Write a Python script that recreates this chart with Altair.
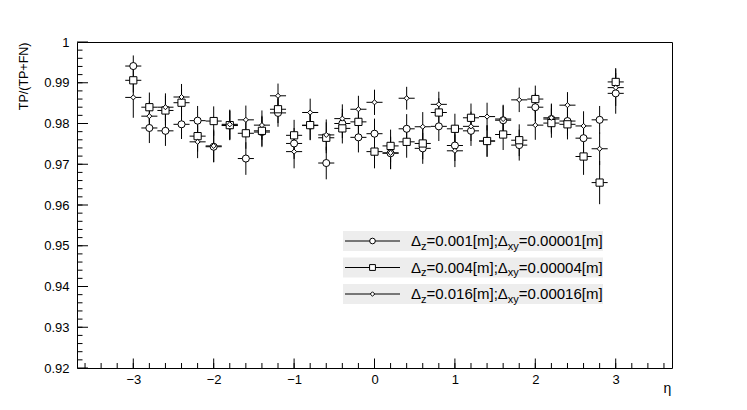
import altair as alt
import pandas as pd

# ---------------- data ----------------
eta = [-3.0, -2.8, -2.6, -2.4, -2.2, -2.0, -1.8, -1.6, -1.4, -1.2, -1.0,
       -0.8, -0.6, -0.4, -0.2, 0.0, 0.2, 0.4, 0.6, 0.8, 1.0,
       1.2, 1.4, 1.6, 1.8, 2.0, 2.2, 2.4, 2.6, 2.8, 3.0]

eff_circle = [0.9941, 0.9789, 0.9782, 0.9798, 0.9807, 0.9743, 0.9795, 0.9714, 0.9779, 0.9826, 0.9751,
              0.9795, 0.9703, 0.9800, 0.9766, 0.9775, 0.9727, 0.9787, 0.9739, 0.9793, 0.9746,
              0.9782, 0.9757, 0.9808, 0.9747, 0.9840, 0.9811, 0.9806, 0.9764, 0.9809, 0.9874]
err_circle = [0.0026, 0.0037, 0.0037, 0.0036, 0.0036, 0.0038, 0.0036, 0.0040, 0.0037, 0.0034, 0.0038,
              0.0036, 0.0040, 0.0036, 0.0037, 0.0037, 0.0039, 0.0036, 0.0038, 0.0036, 0.0038,
              0.0037, 0.0038, 0.0036, 0.0038, 0.0034, 0.0036, 0.0036, 0.0038, 0.0034, 0.0050]

eff_square = [0.9906, 0.9840, 0.9832, 0.9851, 0.9769, 0.9806, 0.9796, 0.9776, 0.9782, 0.9835, 0.9771,
              0.9796, 0.9765, 0.9788, 0.9804, 0.9731, 0.9745, 0.9755, 0.9751, 0.9827, 0.9787,
              0.9814, 0.9757, 0.9773, 0.9759, 0.9860, 0.9801, 0.9798, 0.9719, 0.9655, 0.9902]
err_square = [0.0030, 0.0036, 0.0036, 0.0034, 0.0038, 0.0036, 0.0036, 0.0038, 0.0037, 0.0034, 0.0038,
              0.0036, 0.0038, 0.0037, 0.0036, 0.0041, 0.0040, 0.0039, 0.0039, 0.0035, 0.0037,
              0.0035, 0.0039, 0.0038, 0.0039, 0.0033, 0.0036, 0.0037, 0.0045, 0.0053, 0.0034]

eff_diamond = [0.9864, 0.9818, 0.9840, 0.9865, 0.9755, 0.9745, 0.9798, 0.9809, 0.9796, 0.9868, 0.9731,
               0.9827, 0.9772, 0.9812, 0.9835, 0.9852, 0.9728, 0.9862, 0.9792, 0.9847, 0.9733,
               0.9793, 0.9817, 0.9811, 0.9858, 0.9796, 0.9814, 0.9845, 0.9794, 0.9738, 0.9888]
err_diamond = [0.0050, 0.0036, 0.0034, 0.0032, 0.0040, 0.0040, 0.0036, 0.0035, 0.0036, 0.0030, 0.0041,
               0.0034, 0.0038, 0.0035, 0.0033, 0.0031, 0.0040, 0.0028, 0.0036, 0.0031, 0.0040,
               0.0036, 0.0034, 0.0035, 0.0030, 0.0036, 0.0035, 0.0032, 0.0036, 0.0040, 0.0045]

half_bin = 0.1

dz_vals = ["0.001", "0.004", "0.016"]
dxy_vals = ["0.00001", "0.00004", "0.00016"]

x_tick_labels = [-3, -2, -1, 0, 1, 2, 3]
y_tick_labels = [0.92, 0.93, 0.94, 0.95, 0.96, 0.97, 0.98, 0.99, 1.0]
x_minor = [round(-3.6 + 0.2 * i, 1) for i in range(37)]
y_minor = [round(0.922 + 0.002 * i, 3) for i in range(39)]

# ---------------- layout ----------------
W, H = 595, 326
FONT = "Liberation Sans"

xs = alt.Scale(domain=[-3.7, 3.7], nice=False, zero=False)
ys = alt.Scale(domain=[0.92, 1.0], nice=False, zero=False)

xaxis = alt.Axis(values=x_tick_labels, format="d", ticks=False, domain=False, grid=False,
                 labelFont=FONT, labelFontSize=13, labelColor="black", labelPadding=5,
                 title="η", titleFont=FONT, titleFontSize=14, titleFontWeight="normal",
                 titleColor="black", titleX=590, titleY=20, titleAlign="center",
                 titleBaseline="middle")
yaxis = alt.Axis(values=y_tick_labels, format=".2~f", ticks=False, domain=False, grid=False,
                 labelFont=FONT, labelFontSize=13, labelColor="black", labelPadding=8,
                 title="TP/(TP+FN)", titleFont=FONT, titleFontSize=12.5, titleFontWeight="normal",
                 titleColor="black", titleAngle=-90, titleX=-54, titleY=0, titleAlign="right",
                 titleBaseline="middle")

series = [
    ("circle", eff_circle, err_circle, 50),
    ("square", eff_square, err_square, 52),
    ("diamond", eff_diamond, err_diamond, 26),
]

layers = []

# legend bands (drawn first)
row_y = [199, 225.5, 252]
for ry in row_y:
    layers.append(
        alt.Chart(pd.DataFrame({"k": [0]})).mark_rect(color="#ededed").encode(
            x=alt.value(266), x2=alt.value(526), y=alt.value(ry - 10), y2=alt.value(ry + 10))
    )

for shape, eff, err, size in series:
    df = pd.DataFrame({
        "x": eta,
        "y": eff,
        "ylo": [e - d for e, d in zip(eff, err)],
        "yhi": [e + d for e, d in zip(eff, err)],
        "xlo": [v - half_bin for v in eta],
        "xhi": [v + half_bin for v in eta],
    })
    base = alt.Chart(df)
    layers.append(base.mark_rule(color="black", strokeWidth=1).encode(
        x=alt.X("x:Q", scale=xs, axis=xaxis),
        y=alt.Y("ylo:Q", scale=ys, axis=yaxis), y2="yhi:Q"))
    layers.append(base.mark_rule(color="black", strokeWidth=1).encode(
        x=alt.X("xlo:Q", scale=xs, axis=xaxis), x2="xhi:Q",
        y=alt.Y("y:Q", scale=ys, axis=yaxis)))

for shape, eff, err, size in series:
    df = pd.DataFrame({"x": eta, "y": eff})
    layers.append(alt.Chart(df).mark_point(
        shape=shape, size=size, filled=True, fill="white", stroke="black",
        strokeWidth=1, opacity=1).encode(
        x=alt.X("x:Q", scale=xs, axis=xaxis),
        y=alt.Y("y:Q", scale=ys, axis=yaxis)))

# axis ticks (inside the frame, ROOT style)
layers.append(alt.Chart(pd.DataFrame({"v": y_minor})).mark_rule(color="black").encode(
    y=alt.Y("v:Q", scale=ys, axis=yaxis), x=alt.value(0), x2=alt.value(5.5)))
layers.append(alt.Chart(pd.DataFrame({"v": y_tick_labels})).mark_rule(color="black").encode(
    y=alt.Y("v:Q", scale=ys, axis=yaxis), x=alt.value(0), x2=alt.value(11)))
layers.append(alt.Chart(pd.DataFrame({"v": x_minor})).mark_rule(color="black").encode(
    x=alt.X("v:Q", scale=xs, axis=xaxis), y=alt.value(H), y2=alt.value(H - 5)))
layers.append(alt.Chart(pd.DataFrame({"v": x_tick_labels})).mark_rule(color="black").encode(
    x=alt.X("v:Q", scale=xs, axis=xaxis), y=alt.value(H), y2=alt.value(H - 9.5)))

# legend
legend_sizes = {"circle": 32, "square": 34, "diamond": 20}
tx0 = 334
offs = [0, 10.0, 15.5, 96.8, 107.8]
for (shape, _, _, _), ry, dz, dxy in zip(series, row_y, dz_vals, dxy_vals):
    one = alt.Chart(pd.DataFrame({"k": [0]}))
    layers.append(one.mark_rule(color="black", strokeWidth=1).encode(
        x=alt.value(268), x2=alt.value(323), y=alt.value(ry)))
    layers.append(one.mark_point(shape=shape, size=legend_sizes[shape], filled=True,
                                 fill="white", stroke="black", strokeWidth=1, opacity=1).encode(
        x=alt.value(295.5), y=alt.value(ry)))
    pieces = [("Δ", 15, 0), ("z", 11, 3.5), ("=" + dz + "[m];Δ", 15, 0),
              ("xy", 11, 3.5), ("=" + dxy + "[m]", 15, 0)]
    for (txt, fs, dy), ox in zip(pieces, offs):
        layers.append(one.mark_text(text=txt, font=FONT, fontSize=fs, color="black",
                                    align="left", baseline="alphabetic").encode(
            x=alt.value(tx0 + ox), y=alt.value(ry + 5.3 + dy)))

chart = alt.layer(*layers).properties(
    width=W, height=H,
    padding={"left": 69, "top": 34, "right": 60, "bottom": 30},
    autosize=alt.AutoSizeParams(type="none"),
    background="white",
).configure_view(stroke="black", strokeWidth=1)

chart.save("out.html", embed_options={"renderer": "svg", "actions": False})
